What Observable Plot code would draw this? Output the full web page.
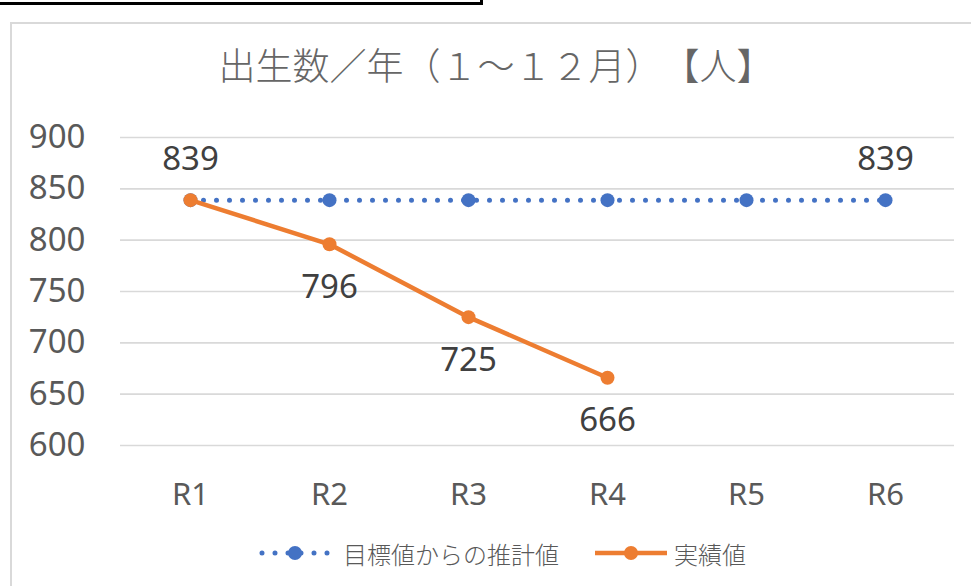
<!DOCTYPE html>
<html><head><meta charset="utf-8">
<script src="https://cdn.jsdelivr.net/npm/d3@7"></script>
<script src="https://cdn.jsdelivr.net/npm/@observablehq/plot@0.6"></script>
<style>
body{margin:0;background:#fff;width:971px;height:586px;overflow:hidden;position:relative;font-family:"Noto Sans","Noto Sans CJK JP",sans-serif;}
#topbar{position:absolute;left:0;top:0;width:480px;height:2px;border-bottom:3px solid #000;border-right:3px solid #000;}
#frame{position:absolute;left:10px;top:22px;width:1000px;height:700px;border:2px solid #d9d9d9;}
#title{position:absolute;left:8px;width:976px;top:39px;text-align:center;font-family:"Noto Sans CJK JP Light","Noto Sans CJK JP DemiLight","Noto Sans CJK JP",sans-serif;font-weight:300;font-size:37px;color:#666;line-height:50px;white-space:nowrap;text-spacing-trim:space-all;font-kerning:none;}
#chart{position:absolute;left:0;top:0;}
#legend{position:absolute;left:259px;top:538px;display:flex;align-items:center;height:30px;font-family:"Noto Sans CJK JP",sans-serif;font-weight:300;font-size:24px;color:#595959;white-space:nowrap;}
#legend svg{display:block;}
</style></head><body>
<div id="frame"></div>
<div id="topbar"></div>
<div id="chart"></div>
<div id="title"></div>
<div id="legend"></div>
<script>
const titleText = "出生数／年（１～１２月）【人】";
const years = ["R1","R2","R3","R4","R5","R6"];
const targetValues = [839,839,839,839,839,839];
const actualValues = [839,796,725,666];
const yTicks = [600,650,700,750,800,850,900];
const seriesNames = ["目標値からの推計値","実績値"];
const seriesColors = ["#4472C4","#ED7D31"];

const target = years.map((x,i)=>({x, y: targetValues[i]}));
const actual = actualValues.map((y,i)=>({x: years[i], y}));

document.getElementById("title").textContent = titleText;

const plot = Plot.plot({
  width:971, height:586,
  marginLeft:120, marginRight:17, marginTop:137, marginBottom:141,
  style:{fontFamily:'"Noto Sans", sans-serif', fontSize:"33px", color:"#595959", background:"transparent", overflow:"visible"},
  x:{type:"point", domain:years, padding:0.5},
  y:{domain:[600,900]},
  marks:[
    Plot.gridY(yTicks, {stroke:"#d9d9d9", strokeOpacity:1, strokeWidth:1.6}),
    Plot.axisY(yTicks, {tickSize:0, tickPadding:35, fill:"#595959", label:null, fontSize:33}),
    Plot.axisX({tickSize:0, tickPadding:37, fill:"#595959", label:null, fontSize:31}),
    Plot.line(target, {x:"x", y:"y", stroke:seriesColors[0], strokeWidth:5, strokeDasharray:"0 13", strokeLinecap:"round"}),
    Plot.dot(target, {x:"x", y:"y", r:7, fill:seriesColors[0]}),
    Plot.line(actual, {x:"x", y:"y", stroke:seriesColors[1], strokeWidth:4.5}),
    Plot.dot(actual, {x:"x", y:"y", r:7, fill:seriesColors[1]}),
    Plot.text(actual.slice(0,1), {x:"x", y:"y", text:d=>String(d.y), dy:-41, fill:"#404040", fontSize:33}),
    Plot.text(actual.slice(1), {x:"x", y:"y", text:d=>String(d.y), dy:43, fill:"#404040", fontSize:33}),
    Plot.text(target.slice(-1), {x:"x", y:"y", text:d=>String(d.y), dy:-41, fill:"#404040", fontSize:33})
  ]
});
document.getElementById("chart").appendChild(plot);

const legend = document.getElementById("legend");
const ns = "http://www.w3.org/2000/svg";
function swatch(i){
  const s = document.createElementNS(ns,"svg");
  s.setAttribute("width","72"); s.setAttribute("height","20");
  const l = document.createElementNS(ns,"line");
  l.setAttribute("x1", i===0 ? "3" : "0"); l.setAttribute("x2", i===0 ? "69" : "72");
  l.setAttribute("y1","10"); l.setAttribute("y2","10");
  l.setAttribute("stroke", seriesColors[i]);
  if(i===0){ l.setAttribute("stroke-width","5"); l.setAttribute("stroke-dasharray","0 13"); l.setAttribute("stroke-linecap","round"); }
  else { l.setAttribute("stroke-width","4.5"); }
  const c = document.createElementNS(ns,"circle");
  c.setAttribute("cx","36"); c.setAttribute("cy","10"); c.setAttribute("r","7"); c.setAttribute("fill", seriesColors[i]);
  s.appendChild(l); s.appendChild(c);
  return s;
}
seriesNames.forEach((name,i)=>{
  const sw = swatch(i);
  sw.style.marginLeft = i===0 ? "0px" : "36px";
  legend.appendChild(sw);
  const t = document.createElement("span");
  t.textContent = name;
  t.style.marginLeft = i===0 ? "12px" : "7px";
  legend.appendChild(t);
});
</script>
</body></html>
